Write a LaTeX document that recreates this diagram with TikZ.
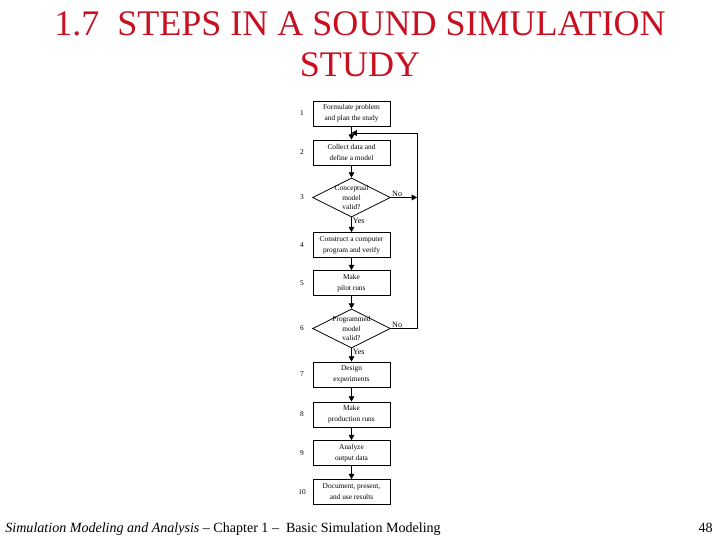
\documentclass[tikz,border=0pt]{standalone}
\usepackage{fontspec}
\setmainfont{Liberation Serif}
\usetikzlibrary{arrows.meta,shapes.geometric}
\definecolor{titlered}{RGB}{200,16,32}

\begin{document}
\begin{tikzpicture}[x=0.02cm, y=-0.02cm, line width=0.45pt,
  stepbox/.style={draw, minimum width=1.54cm, minimum height=0.5cm,
    inner sep=0pt, align=center, font=\fontsize{4.2}{6.2}\selectfont},
  decision/.style={draw, diamond, minimum width=1.56cm, minimum height=0.78cm,
    inner sep=0pt},
  dtext/.style={align=center, font=\fontsize{4.2}{5.3}\selectfont},
  stepnum/.style={font=\fontsize{4.2}{5}\selectfont},
  small/.style={font=\fontsize{4.6}{5}\selectfont, inner sep=0.5pt},
  flow/.style={-{Triangle[length=3pt,width=3.2pt]}}]
  \useasboundingbox (0,0) rectangle (720,540);
  \node[text=titlered, font=\fontsize{20.5}{23}\selectfont, anchor=base] (t1) at (360,36)
    {1.7\ \ STEPS IN A SOUND SIMULATION};
  \node[text=titlered, font=\fontsize{20.5}{23}\selectfont, anchor=base] (t2) at (360,77)
    {STUDY};
  \node[stepbox] (s1) at (351.5,113.5) {Formulate problem\\and plan the study};
  \node[stepbox] (s2) at (351.5,152.5) {Collect data and\\define a model};
  \node[decision] (s3) at (351.5,197.5) {};
  \node[dtext] at (s3) {Conceptual\\model\\valid?};
  \node[stepbox] (s4) at (351.5,245) {Construct a computer\\program and verify};
  \node[stepbox] (s5) at (351.5,283) {Make\\pilot runs};
  \node[decision] (s6) at (351.5,328.5) {};
  \node[dtext] at (s6) {Programmed\\model\\valid?};
  \node[stepbox] (s7) at (351.5,374.5) {Design\\experiments};
  \node[stepbox] (s8) at (351.5,414.5) {Make\\production runs};
  \node[stepbox] (s9) at (351.5,453) {Analyze\\output data};
  \node[stepbox] (s10) at (351.5,492) {Document, present,\\and use results};
  \node[stepnum] (n1) at (302,113.5) {1};
  \node[stepnum] (n2) at (302,152.5) {2};
  \node[stepnum] (n3) at (302,197.5) {3};
  \node[stepnum] (n4) at (302,245) {4};
  \node[stepnum] (n5) at (302,283) {5};
  \node[stepnum] (n6) at (302,328.5) {6};
  \node[stepnum] (n7) at (302,374.5) {7};
  \node[stepnum] (n8) at (302,414.5) {8};
  \node[stepnum] (n9) at (302,453) {9};
  \node[stepnum] (n10) at (302,492) {10};
  \coordinate (m12) at (351.5,133);
  \coordinate (r3) at (417,197.5);
  \coordinate (r6) at (417,328.5);
  \coordinate (rtop) at (417,133);
  \draw[flow] (s1) -- (s2);
  \draw[flow] (s2) -- (s3);
  \draw[flow] (s3) -- (s4);
  \draw[flow] (s4) -- (s5);
  \draw[flow] (s5) -- (s6);
  \draw[flow] (s6) -- (s7);
  \draw[flow] (s7) -- (s8);
  \draw[flow] (s8) -- (s9);
  \draw[flow] (s9) -- (s10);
  \draw[flow] (s3.east) -- (r3);
  \draw[flow] (s6.east) -- (r6) -- (rtop) -- (m12);
  \node[small, anchor=south west] (no3) at (s3.east) {No};
  \node[small, anchor=south west] (no6) at (s6.east) {No};
  \node[small, anchor=north west] (yes3) at (s3.south) {Yes};
  \node[small, anchor=north west] (yes6) at (s6.south) {Yes};
  \node[anchor=base west, font=\fontsize{8}{10}\selectfont, inner sep=0pt] (foot) at (5,532)
    {\textit{Simulation Modeling and Analysis} -- Chapter 1 --\ \ Basic Simulation Modeling};
  \node[anchor=base east, font=\fontsize{8}{10}\selectfont, inner sep=0pt] (page) at (713,532) {48};
\end{tikzpicture}
\end{document}
